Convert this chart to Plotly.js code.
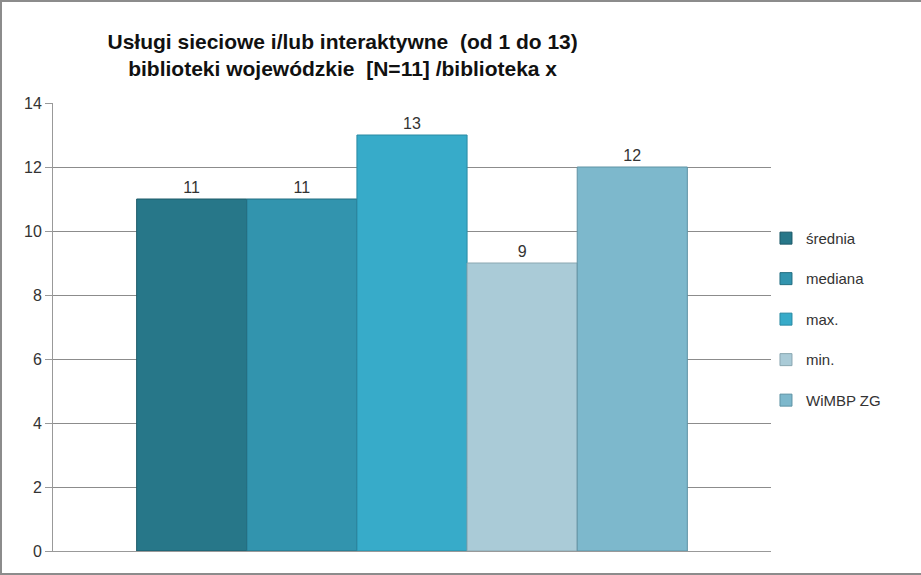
<!DOCTYPE html>
<html>
<head>
<meta charset="utf-8">
<script src="https://cdn.plot.ly/plotly-3.0.1.min.js"></script>
<style>
  html, body { margin: 0; padding: 0; background: #fff; }
  #wrap { position: relative; width: 921px; height: 575px; }
  #chart { width: 921px; height: 575px; }
  #frame { position: absolute; left: 0; top: 0; width: 921px; height: 575px; box-sizing: border-box;
           border-left: 2px solid #8c8c8c; border-top: 2px solid #8c8c8c; border-bottom: 2px solid #8c8c8c;
           pointer-events: none; }
</style>
</head>
<body>
<div id="wrap"><div id="chart"></div><div id="frame"></div></div>
<script>
// Data
const categories = ['Usługi sieciowe i/lub interaktywne'];
const seriesNames = ['średnia', 'mediana', 'max.', 'min.', 'WiMBP ZG'];
const sredniaValues = [11];
const medianaValues = [11];
const maxValues = [13];
const minValues = [9];
const wimbpValues = [12];
const yTicks = [0, 2, 4, 6, 8, 10, 12, 14];

const seriesValues = [sredniaValues, medianaValues, maxValues, minValues, wimbpValues];
const fillColors = ['#277789', '#3294ae', '#37abc9', '#aacbd7', '#7db8cc'];
const lineColors = ['#1d5a69', '#236f82', '#2a8aa3', '#8aa7b1', '#5f93a4'];

const font = "'Liberation Sans', Arial, sans-serif";

const traces = seriesNames.map((name, i) => ({
  type: 'bar',
  name: name,
  x: categories,
  y: seriesValues[i],
  text: seriesValues[i].map(String),
  textposition: 'outside',
  cliponaxis: false,
  textfont: { family: font, size: 16, color: '#333' },
  marker: { color: fillColors[i], line: { color: lineColors[i], width: 1 } },
  legendgroup: 'g' + i,
  hoverinfo: 'y+name'
}));

const layout = {
  width: 921,
  height: 575,
  paper_bgcolor: '#fff',
  plot_bgcolor: '#fff',
  margin: { l: 53, r: 150, t: 103, b: 24 },
  barmode: 'group',
  bargap: 0.233,
  bargroupgap: 0,
  showlegend: true,
  title: {
    text: '<b>Usługi sieciowe i/lub interaktywne  (od 1 do 13)<br>biblioteki wojewódzkie  [N=11] /biblioteka x</b>',
    font: { family: font, size: 21, color: '#111' },
    xref: 'container', yref: 'container',
    x: 0.372, xanchor: 'center',
    y: 0.915, yanchor: 'top'
  },
  xaxis: {
    showticklabels: false,
    showgrid: false,
    showline: true,
    linecolor: '#999',
    linewidth: 1,
    ticks: '',
    zeroline: false
  },
  yaxis: {
    range: [0, 14],
    tickvals: yTicks,
    ticktext: yTicks.map(String),
    showgrid: true,
    gridcolor: '#8c8c8c',
    gridwidth: 1,
    showline: true,
    linecolor: '#999',
    linewidth: 1,
    ticks: 'outside',
    ticklen: 7,
    tickcolor: '#999',
    zeroline: false,
    tickfont: { family: font, size: 16, color: '#333' }
  },
  legend: {
    x: 0.993, xanchor: 'left',
    y: 0.517, yanchor: 'middle',
    font: { family: font, size: 15, color: '#333' },
    tracegroupgap: 18,
    itemwidth: 30,
    bgcolor: 'rgba(0,0,0,0)'
  }
};

Plotly.newPlot('chart', traces, layout, { displayModeBar: false, staticPlot: true });
</script>
</body>
</html>
